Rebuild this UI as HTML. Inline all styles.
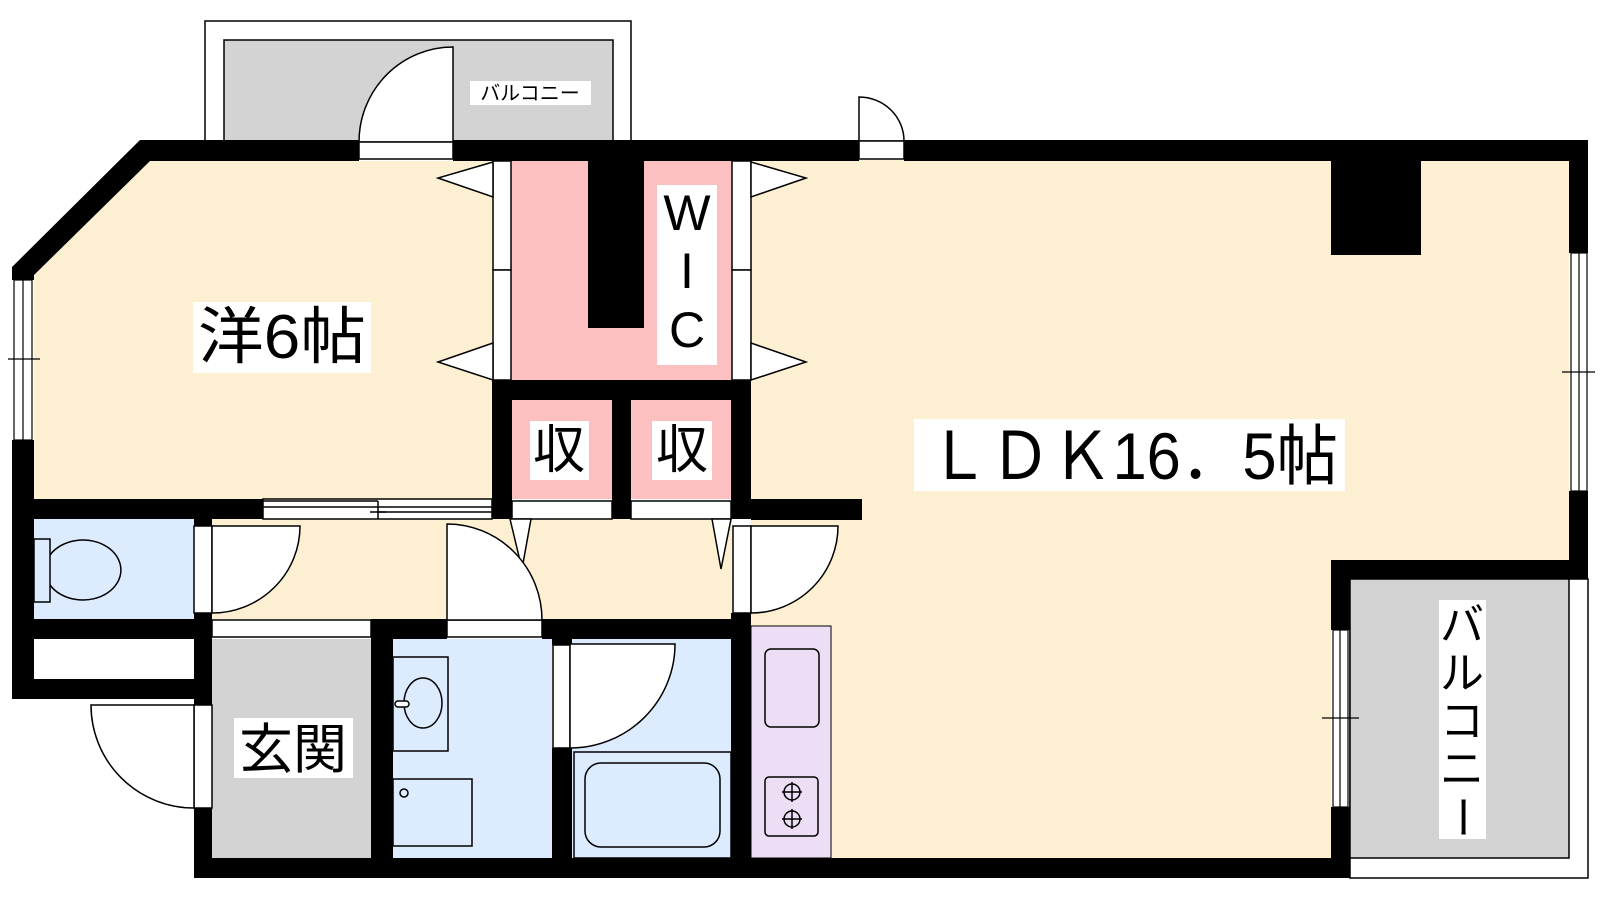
<!DOCTYPE html>
<html><head><meta charset="utf-8"><style>
html,body{margin:0;padding:0;background:#fff;}
svg{display:block;}
text{font-family:"Liberation Sans","Noto Sans CJK JP",sans-serif;fill:#000;}
</style></head><body>
<svg width="1600" height="900" viewBox="0 0 1600 900" xmlns="http://www.w3.org/2000/svg">
<!-- top balcony -->
<rect x="205" y="21" width="426" height="125" fill="#fff" stroke="#000" stroke-width="1.5"/>
<rect x="224" y="40" width="389" height="106" fill="#d3d3d3" stroke="#000" stroke-width="1.5"/>
<path d="M453,142 L453,47 A94,95 0 0 0 359,142 Z" fill="#fff" stroke="#000" stroke-width="1.5"/>
<rect x="470" y="81" width="121" height="24" fill="#fff"/>
<text x="530" y="100" font-size="20" text-anchor="middle">バルコニー</text>
<!-- small top door -->
<path d="M859,141 L859,97 A45,44 0 0 1 904,141 Z" fill="#fff" stroke="#000" stroke-width="1.5"/>

<!-- floors -->
<polygon points="146,161 493,161 493,499 34,499 34,275" fill="#fdf0d2"/>
<rect x="212" y="519" width="520" height="100" fill="#fdf0d2"/>
<polygon points="751,160 1569,160 1569,560 1331,560 1331,858 751,858" fill="#fdf0d2"/>
<rect x="511" y="161" width="221" height="219" fill="#fdc0c0"/>
<rect x="512" y="400" width="100" height="99" fill="#fdc0c0"/>
<rect x="631" y="400" width="100" height="99" fill="#fdc0c0"/>
<rect x="34" y="519" width="160" height="100" fill="#dcebfd"/>
<rect x="34" y="639" width="160" height="40" fill="#fff"/>
<rect x="212" y="639" width="159" height="219" fill="#d3d3d3"/>
<rect x="393" y="639" width="159" height="219" fill="#dcebfd"/>
<rect x="572" y="639" width="159" height="219" fill="#dcebfd"/>
<rect x="751" y="626" width="80" height="232" fill="#ecdff5" stroke="#000" stroke-width="1"/>
<rect x="1350" y="579" width="238" height="299" fill="#fff" stroke="#000" stroke-width="1.5"/>
<rect x="1350" y="579" width="219" height="279" fill="#d3d3d3" stroke="#000" stroke-width="1.5"/>

<!-- walls -->
<g fill="#000">
<rect x="140" y="140" width="219" height="21"/>
<rect x="453" y="140" width="406" height="21"/>
<rect x="904" y="140" width="684" height="21"/>
<polygon points="140,140 150,161 34,275 12,267"/>
<rect x="12" y="267" width="22" height="13"/>
<rect x="12" y="440" width="22" height="259"/>
<rect x="12" y="499" width="251" height="20"/>
<rect x="12" y="619" width="182" height="20"/>
<rect x="12" y="679" width="200" height="20"/>
<rect x="194" y="519" width="18" height="7"/>
<rect x="194" y="613" width="18" height="92"/>
<rect x="194" y="808" width="18" height="70"/>
<rect x="194" y="858" width="1156" height="20"/>
<rect x="371" y="619" width="76" height="20"/>
<rect x="542" y="619" width="209" height="20"/>
<rect x="371" y="619" width="22" height="259"/>
<rect x="552" y="748" width="20" height="130"/>
<rect x="552" y="639" width="20" height="6"/>
<rect x="731" y="613" width="20" height="265"/>
<rect x="492" y="380" width="259" height="20"/>
<rect x="492" y="380" width="20" height="139"/>
<rect x="612" y="400" width="19" height="119"/>
<rect x="731" y="380" width="20" height="139"/>
<rect x="751" y="499" width="111" height="21"/>
<rect x="588" y="161" width="56" height="167"/>
<rect x="1331" y="161" width="90" height="94"/>
<rect x="1569" y="140" width="19" height="113"/>
<rect x="1569" y="491" width="19" height="88"/>
<rect x="1331" y="560" width="257" height="19"/>
<rect x="1331" y="560" width="19" height="70"/>
<rect x="1331" y="807" width="19" height="71"/>
</g>

<!-- door openings in walls -->
<g fill="#fff" stroke="#000" stroke-width="1.5">
<rect x="359" y="142" width="94" height="17"/>
<rect x="859" y="141" width="45" height="18"/>
<rect x="493" y="161" width="18" height="109"/><rect x="493" y="270" width="18" height="110"/>
<rect x="732" y="161" width="19" height="109"/><rect x="732" y="270" width="19" height="110"/>
<rect x="263" y="499" width="229" height="20"/>
<rect x="512" y="501" width="100" height="18"/>
<rect x="631" y="501" width="100" height="18"/>
<rect x="212" y="620" width="159" height="17"/>
<rect x="447" y="620" width="95" height="17"/>
</g>
<g stroke="#000" stroke-width="1.5">
<line x1="263" y1="507" x2="492" y2="507"/>
<line x1="263" y1="501" x2="378" y2="501"/>
<line x1="378" y1="512" x2="492" y2="512"/>
<line x1="378" y1="501" x2="378" y2="519"/>
<line x1="370" y1="512" x2="386" y2="512"/>
</g>
<!-- windows -->
<g fill="#fff" stroke="#000" stroke-width="1.2">
<rect x="14" y="280" width="18" height="160"/>
<line x1="23" y1="280" x2="23" y2="440"/>
<line x1="8" y1="359" x2="40" y2="359"/>
<rect x="1571" y="253" width="16" height="238"/>
<line x1="1579" y1="253" x2="1579" y2="491"/>
<line x1="1562" y1="372" x2="1595" y2="372"/>
<rect x="1333" y="630" width="15" height="177"/>
<line x1="1340" y1="630" x2="1340" y2="807"/>
<line x1="1322" y1="718" x2="1359" y2="718"/>
</g>

<!-- triangles -->
<g fill="#fff" stroke="#000" stroke-width="1.5">
<polygon points="493,162 438,178 493,197"/>
<polygon points="493,343 438,362 493,380"/>
<polygon points="751,162 806,178 751,197"/>
<polygon points="751,343 806,362 751,380"/>
<polygon points="510,519 522,569 531,519"/>
<polygon points="712,519 721,569 731,519"/>
</g>

<!-- doors -->
<g fill="#fff" stroke="#000" stroke-width="1.5">
<rect x="194" y="526" width="18" height="87"/>
<path d="M212,526 L300,526 A88,87 0 0 1 212,613 Z"/>
<rect x="733" y="526" width="18" height="87"/>
<path d="M751,526 L838,526 A87,87 0 0 1 751,613 Z"/>
<rect x="194" y="705" width="18" height="103"/>
<path d="M194,705 L91,705 A103,103 0 0 0 194,808 Z"/>
<path d="M447,620 L447,524 A95,96 0 0 1 542,620 Z"/>
<rect x="553" y="645" width="17" height="103"/>
<path d="M570,644 L675,644 A105,104 0 0 1 570,748 Z"/>
</g>

<!-- fixtures -->
<g fill="none" stroke="#000" stroke-width="1.5">
<rect x="34" y="539" width="16" height="63" fill="#dcebfd"/>
<path d="M50,555 A38,30 0 1 1 50,585"/>
<rect x="393" y="657" width="55" height="94"/>
<ellipse cx="423" cy="703" rx="19" ry="25"/>
<rect x="395" y="701" width="14" height="6" rx="3" fill="#fff"/>
<rect x="393" y="779" width="79" height="67"/>
<circle cx="404" cy="793" r="4"/>
<rect x="574" y="752" width="157" height="106"/>
<rect x="585" y="763" width="135" height="84" rx="16"/>
<rect x="765" y="649" width="54" height="78" rx="6"/>
<rect x="765" y="777" width="53" height="59" rx="4"/>
<circle cx="792" cy="792" r="8"/>
<circle cx="792" cy="819" r="8"/>
<line x1="782" y1="792" x2="802" y2="792"/><line x1="792" y1="782" x2="792" y2="802"/>
<line x1="782" y1="819" x2="802" y2="819"/><line x1="792" y1="809" x2="792" y2="829"/>
</g>

<!-- labels -->
<rect x="193" y="302" width="178" height="71" fill="#fff"/>
<text x="282" y="358" font-size="62" text-anchor="middle" textLength="168" lengthAdjust="spacingAndGlyphs">洋6帖</text>
<rect x="657" y="185" width="60" height="180" fill="#fff"/>
<text x="687" y="230" font-size="50" text-anchor="middle">W</text>
<text x="687" y="288" font-size="50" text-anchor="middle">I</text>
<text x="687" y="347" font-size="50" text-anchor="middle">C</text>
<rect x="530" y="421" width="59" height="59" fill="#fff"/>
<text x="559" y="468" font-size="52" text-anchor="middle">収</text>
<rect x="652" y="421" width="60" height="59" fill="#fff"/>
<text x="682" y="468" font-size="52" text-anchor="middle">収</text>
<rect x="234" y="718" width="119" height="60" fill="#fff"/>
<text x="293" y="768" font-size="54" text-anchor="middle">玄関</text>
<rect x="914" y="419" width="431" height="72" fill="#fff"/>
<text x="928" y="479" font-size="66" textLength="410" lengthAdjust="spacingAndGlyphs">ＬＤＫ16．5帖</text>
<rect x="1439" y="600" width="47" height="239" fill="#fff"/>
<g font-size="44" text-anchor="middle">
<text x="1462" y="640">バ</text>
<text x="1462" y="688">ル</text>
<text x="1462" y="736">コ</text>
<text x="1462" y="784">ニ</text>
<text x="1462" y="832" transform="rotate(90 1462 817)">ー</text>
</g>
</svg>
</body></html>
